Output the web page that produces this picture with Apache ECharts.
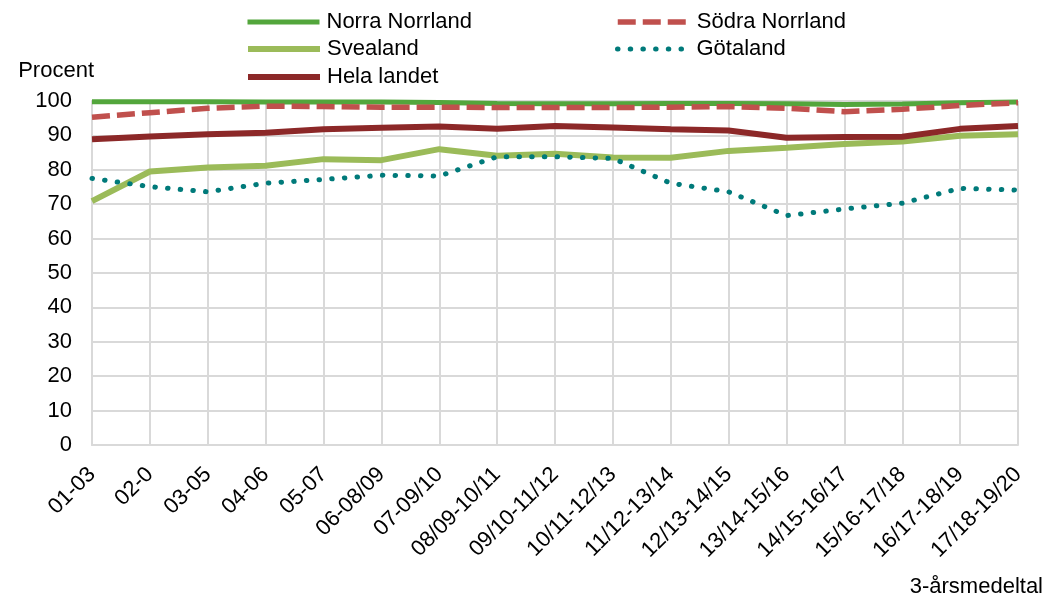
<!DOCTYPE html>
<html style="height: 100%">
<head>
    <meta charset="UTF-8">
    <script src="https://cdn.jsdelivr.net/npm/echarts@6/dist/echarts.min.js"></script>
</head>
<body style="height: 100%; margin: 0; background: #fff">
    <div id="container" style="width: 1046px; height: 599px;"></div>
    <script type="text/javascript">
        // 3-årsmedeltal, procent
        var categories = ['01-03', '02-0', '03-05', '04-06', '05-07', '06-08/09', '07-09/10',
            '08/09-10/11', '09/10-11/12', '10/11-12/13', '11/12-13/14', '12/13-14/15',
            '13/14-15/16', '14/15-16/17', '15/16-17/18', '16/17-18/19', '17/18-19/20'];
        var norraNorrland = [99.8, 99.8, 99.8, 99.7, 99.7, 99.7, 99.6, 99.3, 99.2, 99.2, 99.3, 99.3, 99.2, 99.0, 99.1, 99.5, 99.7];
        var sodraNorrland = [95.3, 96.6, 97.9, 98.5, 98.4, 98.2, 98.2, 98.1, 98.1, 98.1, 98.2, 98.4, 97.9, 96.9, 97.6, 98.7, 99.5];
        var svealand = [70.9, 79.5, 80.7, 81.2, 83.1, 82.8, 86.0, 84.1, 84.7, 83.6, 83.5, 85.5, 86.4, 87.5, 88.2, 89.9, 90.3];
        var gotaland = [77.5, 75.1, 73.6, 76.1, 77.2, 78.4, 78.2, 83.8, 83.8, 83.3, 76.1, 73.6, 66.7, 68.6, 70.3, 74.6, 74.1];
        var helaLandet = [88.9, 89.7, 90.3, 90.8, 91.8, 92.2, 92.6, 91.9, 92.7, 92.3, 91.8, 91.4, 89.3, 89.5, 89.6, 91.9, 92.7];
        var yTicks = [0, 10, 20, 30, 40, 50, 60, 70, 80, 90, 100];

        var font = 'Liberation Sans, Arial, sans-serif';
        var gridColor = '#d9d9d9';

        var myChart = echarts.init(document.getElementById('container'));

        function legendAt(name, left, top, width) {
            return {
                data: [name],
                left: left,
                top: top,
                padding: 0,
                itemWidth: 72,
                itemHeight: 14,
                itemGap: 0,
                selectedMode: false,
                itemStyle: { opacity: 0 },
                lineStyle: { width: width },
                textStyle: { fontFamily: font, fontSize: 22, color: '#000', padding: [0, 0, 0, 2] }
            };
        }

        var option = {
            animation: false,
            backgroundColor: '#fff',
            legend: [
                legendAt('Norra Norrland', 245, 11, 5),
                legendAt('Södra Norrland', 615, 11, 5.5),
                legendAt('Svealand', 245, 38, 6),
                legendAt('Götaland', 615, 38, 5),
                legendAt('Hela landet', 245, 66, 6)
            ],
            grid: { left: 92, right: 26, top: 101, bottom: 154 },
            xAxis: {
                type: 'category',
                data: categories,
                boundaryGap: false,
                name: '3-årsmedeltal',
                nameLocation: 'end',
                nameGap: 25,
                nameTextStyle: { fontFamily: font, fontSize: 22, color: '#000', align: 'right', verticalAlign: 'top', padding: [131, 0, 0, 0] },
                axisLine: { lineStyle: { color: gridColor, width: 2 } },
                axisTick: { show: false },
                axisLabel: { rotate: 45, margin: 26, fontFamily: font, fontSize: 22, color: '#000', interval: 0 },
                splitLine: { show: true, lineStyle: { color: gridColor, width: 2 } }
            },
            yAxis: {
                type: 'value',
                min: yTicks[0],
                max: yTicks[yTicks.length - 1],
                interval: 10,
                name: 'Procent',
                nameLocation: 'end',
                nameGap: 30,
                nameTextStyle: { fontFamily: font, fontSize: 22, color: '#000', align: 'right', verticalAlign: 'middle', padding: [0, -2, 0, 0] },
                axisLine: { show: true, lineStyle: { color: gridColor, width: 2 } },
                axisTick: { show: false },
                axisLabel: { margin: 20, fontFamily: font, fontSize: 22, color: '#000' },
                splitLine: { lineStyle: { color: gridColor, width: 2 } }
            },
            series: [
                {
                    name: 'Norra Norrland', type: 'line', data: norraNorrland, symbol: 'none',
                    itemStyle: { color: '#53a63c' },
                    lineStyle: { color: '#53a63c', width: 5 }
                },
                {
                    name: 'Södra Norrland', type: 'line', data: sodraNorrland, symbol: 'none',
                    itemStyle: { color: '#c0504d' },
                    lineStyle: { color: '#c0504d', width: 5.5, type: [18, 7] }
                },
                {
                    name: 'Svealand', type: 'line', data: svealand, symbol: 'none',
                    itemStyle: { color: '#9bbb59' },
                    lineStyle: { color: '#9bbb59', width: 6 }
                },
                {
                    name: 'Götaland', type: 'line', data: gotaland, symbol: 'none',
                    itemStyle: { color: '#007a7a' },
                    lineStyle: { color: '#007a7a', width: 5, type: [0.5, 12.2], cap: 'round' }
                },
                {
                    name: 'Hela landet', type: 'line', data: helaLandet, symbol: 'none',
                    itemStyle: { color: '#8c2828' },
                    lineStyle: { color: '#8c2828', width: 6 }
                }
            ]
        };
        myChart.setOption(option);
        window.onresize = function () {
            myChart.resize();
        };
    </script>
</body>
</html>
